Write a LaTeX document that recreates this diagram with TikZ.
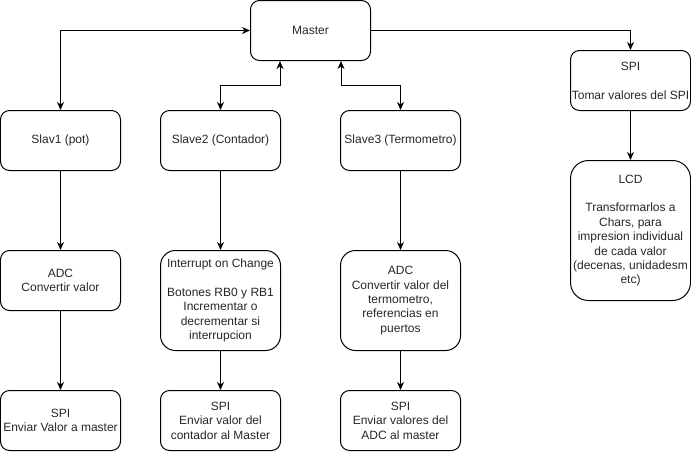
\documentclass[tikz,border=0pt]{standalone}
\usepackage{fontspec}
\setmainfont{Liberation Sans}
\usetikzlibrary{arrows.meta}
\begin{document}
\begin{tikzpicture}[x=1pt,y=-1pt,
  >={Stealth[length=8pt,width=7pt,inset=2.5pt]},
  box/.style={draw, line width=1pt, rounded corners=9pt, inner sep=0pt,
    minimum width=120pt, minimum height=60pt, align=center,
    font=\fontsize{12}{14.4}\selectfont, text=black!85},
  conn/.style={line width=1pt}]
\useasboundingbox (-0.5,-0.5) rectangle (690.5,450.5);
\node[box] (master) at (310,30) {Master};
\node[box] (slav1) at (60,140) {Slav1 (pot)};
\node[box] (slave2) at (220,140) {Slave2 (Contador)};
\node[box] (slave3) at (400,140) {Slave3 (Termometro)};
\node[box] (adc1) at (60,280) {ADC\\Convertir valor};
\node[box, minimum height=100pt, rounded corners=15pt] (irq) at (220,300)
  {Interrupt on Change\\\mbox{}\\Botones RB0 y RB1\\Incrementar o\\decrementar si\\interrupcion};
\node[box, minimum height=100pt, rounded corners=15pt] (adc3) at (400,300)
  {ADC\\Convertir valor del\\termometro,\\referencias en\\puertos};
\node[box] (spi1) at (60,420) {SPI\\Enviar Valor a master};
\node[box] (spi2) at (220,420) {SPI\\Enviar valor del\\contador al Master};
\node[box] (spi3) at (400,420) {SPI\\Enviar valores del\\ADC al master};
\node[box] (spir) at (630,80) {SPI\\\mbox{}\\Tomar valores del SPI};
\node[box, minimum height=140pt, rounded corners=18pt] (lcd) at (630,230)
  {LCD\\\mbox{}\\Transformarlos a\\Chars, para\\impresion individual\\de cada valor\\(decenas, unidadesm\\etc)};
\draw[conn,<->] (master.west) -| (slav1.north);
\draw[conn,<->] ([xshift=30pt]master.south west) |- ([yshift=25pt]slave2.north) -- (slave2.north);
\draw[conn,<->] ([xshift=-30pt]master.south east) |- ([yshift=25pt]slave3.north) -- (slave3.north);
\draw[conn,->] (master.east) -| (spir.north);
\draw[conn,->] (spir) -- (lcd);
\draw[conn,->] (slav1) -- (adc1);
\draw[conn,->] (adc1) -- (spi1);
\draw[conn,->] (slave2) -- (irq);
\draw[conn,->] (irq) -- (spi2);
\draw[conn,->] (slave3) -- (adc3);
\draw[conn,->] (adc3) -- (spi3);
\end{tikzpicture}
\end{document}
